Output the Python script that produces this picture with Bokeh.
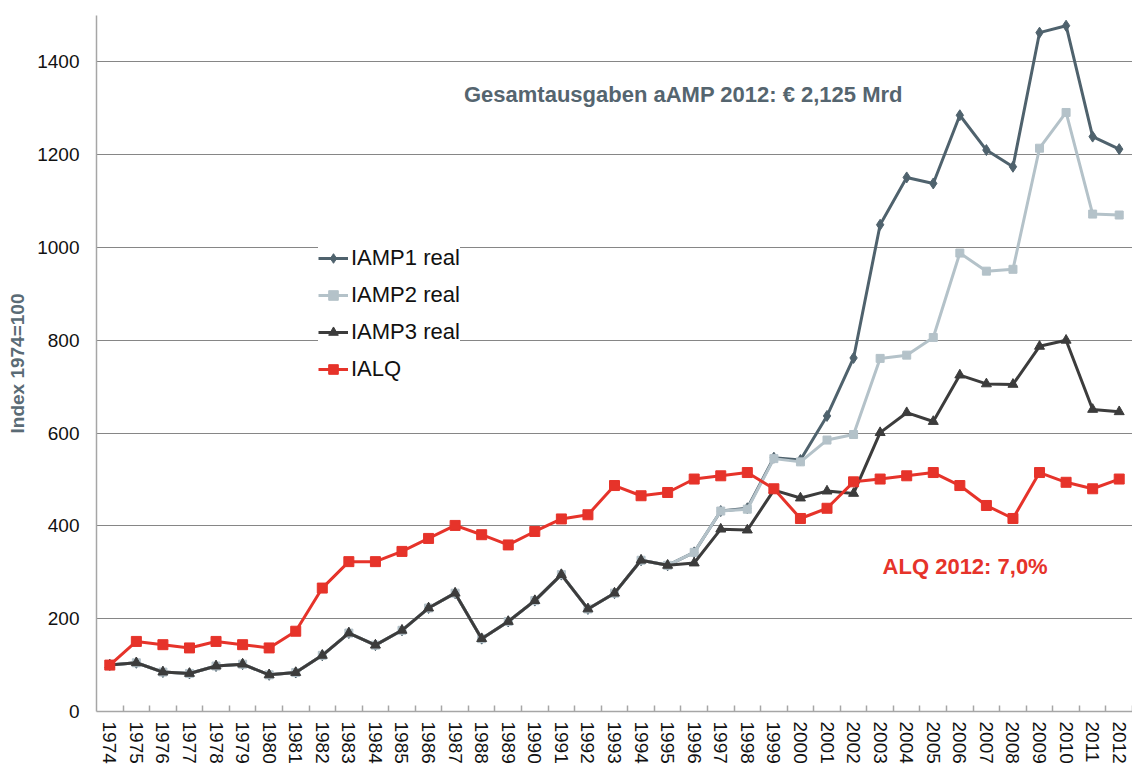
import math
from bokeh.plotting import figure
from bokeh.models import FixedTicker, Legend, LegendItem, Label, Range1d
from bokeh.embed import file_html
from bokeh.resources import INLINE

years = list(range(1974, 2013))

iamp1 = [100, 105, 85, 82, 98, 102, 79, 84, 121, 169,
         143, 175, 223, 255, 157, 194, 239, 295, 221, 255,
         326, 315, 343, 432, 438, 547, 542, 637, 762, 1049,
         1151, 1138, 1285, 1210, 1174, 1463, 1478, 1239, 1212]
iamp2 = [100, 105, 85, 82, 98, 102, 79, 84, 121, 169,
         143, 175, 223, 255, 157, 194, 239, 295, 221, 255,
         326, 315, 343, 432, 436, 545, 538, 585, 597, 761,
         768, 806, 988, 949, 953, 1214, 1291, 1072, 1070]
iamp3 = [100, 105, 85, 82, 98, 102, 79, 84, 121, 169,
         143, 175, 223, 255, 157, 194, 239, 295, 221, 255,
         326, 315, 320, 393, 391, 477, 460, 475, 470, 601,
         644, 625, 725, 706, 705, 787, 800, 651, 646]
ialq = [100, 151, 144, 137, 151, 144, 137, 173, 266, 323,
        323, 345, 373, 401, 381, 359, 388, 415, 424, 487,
        465, 472, 501, 508, 515, 480, 416, 438, 495, 501,
        508, 515, 487, 444, 416, 515, 494, 480, 501]

y_ticks = [0, 200, 400, 600, 800, 1000, 1200, 1400]
series_names = ["IAMP1 real", "IAMP2 real", "IAMP3 real", "IALQ"]
title_text = "Gesamtausgaben  aAMP 2012: € 2,125 Mrd"
alq_text = "ALQ 2012: 7,0%"
y_label = "Index 1974=100"

FONT = "Liberation Sans"
C1 = "#4f626d"
C2 = "#b4c2c9"
C3 = "#3c3c3c"
C4 = "#e6332a"
GRID = "#868686"
AXIS = "#a6a6a6"

p = figure(width=1132, height=766, output_backend="svg", toolbar_location=None,
           x_range=Range1d(years[0] - 0.5, years[-1] + 0.5), y_range=Range1d(0, 1500),
           min_border_left=96, min_border_right=0, min_border_top=15, min_border_bottom=0)
p.outline_line_color = None
p.background_fill_color = "white"
p.border_fill_color = "white"

# x axis
xa = p.xaxis[0]
xa.ticker = FixedTicker(ticks=years, minor_ticks=[y + 0.5 for y in years])
xa.major_label_overrides = {y: str(y) for y in years}
xa.major_label_orientation = "vertical"
xa.major_tick_in = 0
xa.major_tick_out = 0
xa.minor_tick_in = 6
xa.minor_tick_out = 0
xa.minor_tick_line_color = AXIS
xa.minor_tick_line_width = 1.5
xa.axis_line_color = AXIS
xa.axis_line_width = 1.5
xa.major_label_text_font = FONT
xa.major_label_text_font_size = "19px"
xa.major_label_text_color = "#111111"
xa.major_label_standoff = 10

# y axis
ya = p.yaxis[0]
ya.ticker = FixedTicker(ticks=y_ticks)
ya.major_tick_in = 0
ya.major_tick_out = 0
ya.minor_tick_in = 0
ya.minor_tick_out = 0
ya.axis_line_color = AXIS
ya.axis_line_width = 1.5
ya.major_label_text_font = FONT
ya.major_label_text_font_size = "19px"
ya.major_label_text_color = "#111111"
ya.major_label_standoff = 17
ya.axis_label = y_label
ya.axis_label_text_font = FONT
ya.axis_label_text_font_size = "19px"
ya.axis_label_text_font_style = "bold"
ya.axis_label_text_color = "#5a6b75"
ya.axis_label_standoff = 6

p.xgrid.grid_line_color = None
p.ygrid.grid_line_color = GRID
p.ygrid.grid_line_width = 1

r1l = p.line(years, iamp1, line_color=C1, line_width=3)
r1m = p.scatter(years, iamp1, marker="diamond", size=11, fill_color=C1, line_color=C1)
r2l = p.line(years, iamp2, line_color=C2, line_width=3)
r2m = p.scatter(years, iamp2, marker="square", size=8, fill_color=C2, line_color=C2)
r3l = p.line(years, iamp3, line_color=C3, line_width=3)
r3m = p.scatter(years, iamp3, marker="triangle", size=10, fill_color=C3, line_color=C3)
r4l = p.line(years, ialq, line_color=C4, line_width=3)
r4m = p.scatter(years, ialq, marker="square", size=10, fill_color=C4, line_color=C4)

legend = Legend(items=[
    LegendItem(label=series_names[0], renderers=[r1l, r1m]),
    LegendItem(label=series_names[1], renderers=[r2l, r2m]),
    LegendItem(label=series_names[2], renderers=[r3l, r3m]),
    LegendItem(label=series_names[3], renderers=[r4l, r4m]),
], location=(222, 329), orientation="vertical")
legend.label_text_font = FONT
legend.label_text_font_size = "22px"
legend.label_text_color = "#111111"
legend.glyph_width = 30
legend.glyph_height = 24
legend.label_height = 24
legend.spacing = 11
legend.padding = 15
legend.margin = 0
legend.label_standoff = 3
legend.border_line_color = None
legend.background_fill_color = "white"
legend.background_fill_alpha = 1.0
p.add_layout(legend, "center")

p.add_layout(Label(x=1995.71, y=1330, text=title_text, text_align="center",
                   text_baseline="middle", text_font=FONT, text_font_size="22px",
                   text_font_style="bold", text_color="#55656f"))
p.add_layout(Label(x=2006.2, y=312, text=alq_text, text_align="center",
                   text_baseline="middle", text_font=FONT, text_font_size="22px",
                   text_font_style="bold", text_color=C4))

open("out.html", "w").write(file_html(p, INLINE))
